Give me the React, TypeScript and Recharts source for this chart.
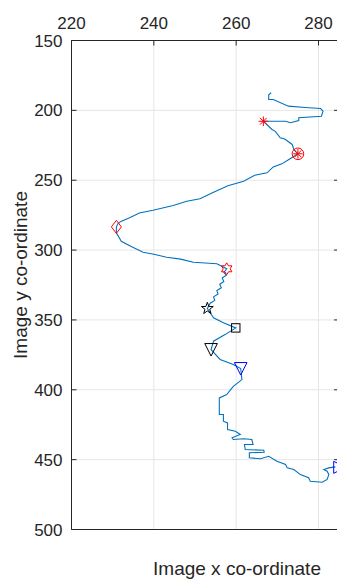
import React from 'react';
import { ComposedChart, Line, Scatter, XAxis, YAxis, CartesianGrid } from 'recharts';

// Axis setup (image coordinates: x on top, y increasing downwards)
const xTicks = [220, 240, 260, 280];
const yTicks = [150, 200, 250, 300, 350, 400, 450, 500];
const xDomain: [number, number] = [220, 285];
const yDomain: [number, number] = [150, 500];

// Tracked trajectory (image x / image y)
const pathX = [
  268.5, 267.9, 267.9, 269.0, 272.7, 276.8, 280.5, 281.1, 280.7, 275.2, 275.2, 273.2, 272.0, 266.6,
  268.7, 269.5, 270.7, 271.8, 273.6, 274.0, 275.0,
  272.8, 271.1, 269.0, 267.5, 264.5, 261.8, 258.0, 254.5, 251.2, 248.0, 244.7, 239.8, 236.5, 234.1,
  232.0, 231.3, 230.9, 230.9, 232.1, 234.5, 237.4, 240.0, 243.1, 246.5, 249.6, 252.5, 255.3, 257.7,
  257.0, 257.6, 256.6, 257.0, 256.0, 256.4, 255.3, 255.6, 254.5, 254.8, 253.7, 253.0,
  254.5, 256.9, 259.9,
  257.3, 254.5, 253.9, 256.1, 259.3, 261.1, 261.4, 259.3, 257.7, 255.9, 255.9, 256.9, 256.9, 257.9,
  257.9, 259.8, 261.0, 259.0, 259.3, 261.8, 263.8, 264.1, 262.0, 262.2, 266.7, 266.8, 263.2, 263.2,
  265.9, 267.9, 269.9, 272.0, 272.4, 274.0, 275.6, 277.6, 278.0, 280.9, 282.1, 282.5, 282.1, 281.3,
  282.5, 284.1,
];
const pathY = [
  187.4, 188.8, 192.2, 192.2, 197.0, 198.0, 198.7, 200.6, 204.2, 205.3, 207.3, 208.9, 207.8, 207.8,
  213.7, 215.0, 219.6, 220.5, 224.4, 228.0, 231.1,
  235.2, 238.3, 240.5, 244.7, 246.5, 250.7, 254.0, 258.6, 263.3, 265.0, 268.1, 271.5, 273.5, 276.9,
  279.5, 281.0, 283.4, 287.7, 293.7, 297.5, 301.5, 303.0, 305.1, 306.5, 308.7, 309.2, 309.8, 313.4,
  316.0, 318.0, 320.0, 322.5, 324.5, 327.0, 329.0, 331.5, 333.5, 336.0, 338.0, 341.8,
  348.5, 352.1, 355.7,
  360.5, 365.2, 371.2, 378.3, 381.9, 384.8, 392.7, 397.5, 403.4, 405.8, 417.7, 417.7, 422.5, 423.7,
  428.5, 429.7, 432.0, 434.4, 435.6, 435.1, 435.6, 439.2, 439.2, 442.8, 443.3, 444.7, 445.1, 448.7,
  449.4, 447.6, 451.1, 453.5, 455.9, 457.1, 460.7, 463.0, 465.5, 466.2, 464.2, 460.7, 458.3, 457.1,
  455.9, 455.2,
];

// Key frames along the trajectory
const markerX = [266.6, 275.0, 275.0, 230.9, 257.7, 253.0, 259.9, 253.9, 261.1, 284.9];
const markerY = [207.8, 231.1, 231.1, 283.4, 313.4, 341.8, 355.7, 371.2, 384.8, 455.5];
const markerKind = [
  'asterisk', 'circle', 'asterisk', 'diamond', 'hexagram',
  'pentagram', 'square', 'triangleDown', 'triangleDown', 'triangleRight',
];
const markerGroup = ['red', 'red', 'red', 'red', 'red', 'black', 'black', 'black', 'blue', 'blue'];

const pathData = pathX.map((x, i) => ({ x, y: pathY[i] }));

const W = 341;
const H = 582;
// Plot box: left 71.5, top 40.5, right 339.1, bottom 529.5
const TOP_AXIS_H = 30;
const LEFT_AXIS_W = 60;
const MARGIN = { top: 40.5 - TOP_AXIS_H, left: 71.5 - LEFT_AXIS_W, right: 0.9, bottom: 51.5 };
const AXIS_COLOR = '#262626';
const GRID_COLOR = '#e6e6e6';
const FONT = '"Liberation Sans", Arial, sans-serif';
const TICK_LEN = 5;
const GROUP_COLOR: Record<string, string> = { red: '#ff0000', black: '#000000', blue: '#0000ff' };

const starPoints = (cx: number, cy: number, n: number, ro: number, ri: number) => {
  const pts: string[] = [];
  for (let k = 0; k < n * 2; k++) {
    const r = k % 2 === 0 ? ro : ri;
    const a = -Math.PI / 2 + (k * Math.PI) / n;
    pts.push(`${cx + r * Math.cos(a)},${cy + r * Math.sin(a)}`);
  }
  return pts.join(' ');
};

const MarkerShape = ({ cx, cy, kind, color }: { cx: number; cy: number; kind: string; color: string }) => {
  const common = { fill: 'none', stroke: color, strokeWidth: 1 };
  switch (kind) {
    case 'asterisk': {
      const r = 4.8;
      const d = r * 0.707;
      return (
        <g {...common}>
          <line x1={cx - r} y1={cy} x2={cx + r} y2={cy} />
          <line x1={cx} y1={cy - r} x2={cx} y2={cy + r} />
          <line x1={cx - d} y1={cy - d} x2={cx + d} y2={cy + d} />
          <line x1={cx - d} y1={cy + d} x2={cx + d} y2={cy - d} />
        </g>
      );
    }
    case 'circle':
      return <circle cx={cx} cy={cy} r={5.8} {...common} />;
    case 'diamond':
      return <polygon points={`${cx},${cy - 6.5} ${cx + 5},${cy} ${cx},${cy + 6.5} ${cx - 5},${cy}`} {...common} />;
    case 'hexagram':
      return <polygon points={starPoints(cx, cy, 6, 6, 6 / Math.sqrt(3))} {...common} />;
    case 'pentagram':
      return <polygon points={starPoints(cx, cy, 5, 6.2, 2.5)} {...common} />;
    case 'square':
      return <rect x={cx - 4.2} y={cy - 4.2} width={8.4} height={8.4} {...common} />;
    case 'triangleDown':
      return <polygon points={`${cx - 6.3},${cy - 6} ${cx + 6.3},${cy - 6} ${cx},${cy + 6.5}`} {...common} />;
    case 'triangleRight':
      return <polygon points={`${cx - 5},${cy - 6} ${cx - 5},${cy + 6} ${cx + 7},${cy}`} {...common} />;
    default:
      return null;
  }
};

const TopTick = (props: any) => {
  const { x, y, payload } = props;
  const axisY = y + 12;
  return (
    <g>
      <line x1={x} x2={x} y1={axisY} y2={axisY + TICK_LEN} stroke={AXIS_COLOR} />
      <text x={x} y={y} textAnchor="middle" fontFamily={FONT} fontSize={17} fill={AXIS_COLOR}>
        {payload.value}
      </text>
    </g>
  );
};

const LeftTick = (props: any) => {
  const { x, y, payload } = props;
  const axisX = x + 9;
  return (
    <g>
      <line x1={axisX} x2={axisX + TICK_LEN} y1={y} y2={y} stroke={AXIS_COLOR} />
      <text x={x} y={y} dy="0.36em" textAnchor="end" fontFamily={FONT} fontSize={17} fill={AXIS_COLOR}>
        {payload.value}
      </text>
    </g>
  );
};

const BottomTick = (props: any) => {
  const { x, y } = props;
  return <line x1={x} x2={x} y1={y} y2={y - TICK_LEN} stroke={AXIS_COLOR} />;
};

const RightTick = (props: any) => {
  const { x, y } = props;
  return <line x1={x} x2={x - TICK_LEN} y1={y} y2={y} stroke={AXIS_COLOR} />;
};

export default function App() {
  return (
    <div
      style={{
        position: 'absolute',
        left: 0,
        top: 0,
        width: 337,
        height: 582,
        overflow: 'hidden',
        background: '#ffffff',
      }}
    >
      <ComposedChart width={W} height={H} margin={MARGIN}>
        <CartesianGrid stroke={GRID_COLOR} strokeWidth={1} />
        <XAxis
          type="number"
          dataKey="x"
          orientation="top"
          domain={xDomain}
          ticks={xTicks}
          allowDataOverflow
          height={TOP_AXIS_H}
          tickSize={0}
          tickMargin={12}
          tickLine={false}
          axisLine={{ stroke: AXIS_COLOR }}
          tick={<TopTick />}
          interval={0}
        />
        <XAxis
          xAxisId="b"
          type="number"
          orientation="bottom"
          domain={xDomain}
          ticks={xTicks}
          allowDataOverflow
          height={1}
          tickSize={0}
          tickMargin={0}
          tickLine={false}
          axisLine={{ stroke: AXIS_COLOR }}
          tick={<BottomTick />}
          interval={0}
        />
        <YAxis
          type="number"
          dataKey="y"
          reversed
          domain={yDomain}
          ticks={yTicks}
          allowDataOverflow
          width={LEFT_AXIS_W}
          tickSize={0}
          tickMargin={9}
          tickLine={false}
          axisLine={{ stroke: AXIS_COLOR }}
          tick={<LeftTick />}
          interval={0}
        />
        <YAxis
          yAxisId="r"
          type="number"
          orientation="right"
          reversed
          domain={yDomain}
          ticks={yTicks}
          allowDataOverflow
          width={1}
          tickSize={0}
          tickMargin={0}
          tickLine={false}
          axisLine={{ stroke: AXIS_COLOR }}
          tick={<RightTick />}
          interval={0}
        />
        <Line
          data={pathData}
          dataKey="y"
          type="linear"
          stroke="#0072bd"
          strokeWidth={1.1}
          dot={false}
          activeDot={false}
          isAnimationActive={false}
        />
        {markerX.map((mx, i) => (
          <Scatter
            key={`m${i}`}
            data={[{ x: mx, y: markerY[i] }]}
            dataKey="y"
            isAnimationActive={false}
            shape={(p: any) => (
              <MarkerShape cx={p.cx} cy={p.cy} kind={markerKind[i]} color={GROUP_COLOR[markerGroup[i]]} />
            )}
          />
        ))}
      </ComposedChart>
      <svg
        width={337}
        height={582}
        style={{ position: 'absolute', left: 0, top: 0, pointerEvents: 'none' }}
      >
        <text x={237} y={575} textAnchor="middle" fontFamily={FONT} fontSize={19} fill={AXIS_COLOR}>
          Image x co-ordinate
        </text>
        <text
          x={0}
          y={0}
          transform="translate(27 275) rotate(-90)"
          textAnchor="middle"
          fontFamily={FONT}
          fontSize={19}
          fill={AXIS_COLOR}
        >
          Image y co-ordinate
        </text>
      </svg>
    </div>
  );
}
